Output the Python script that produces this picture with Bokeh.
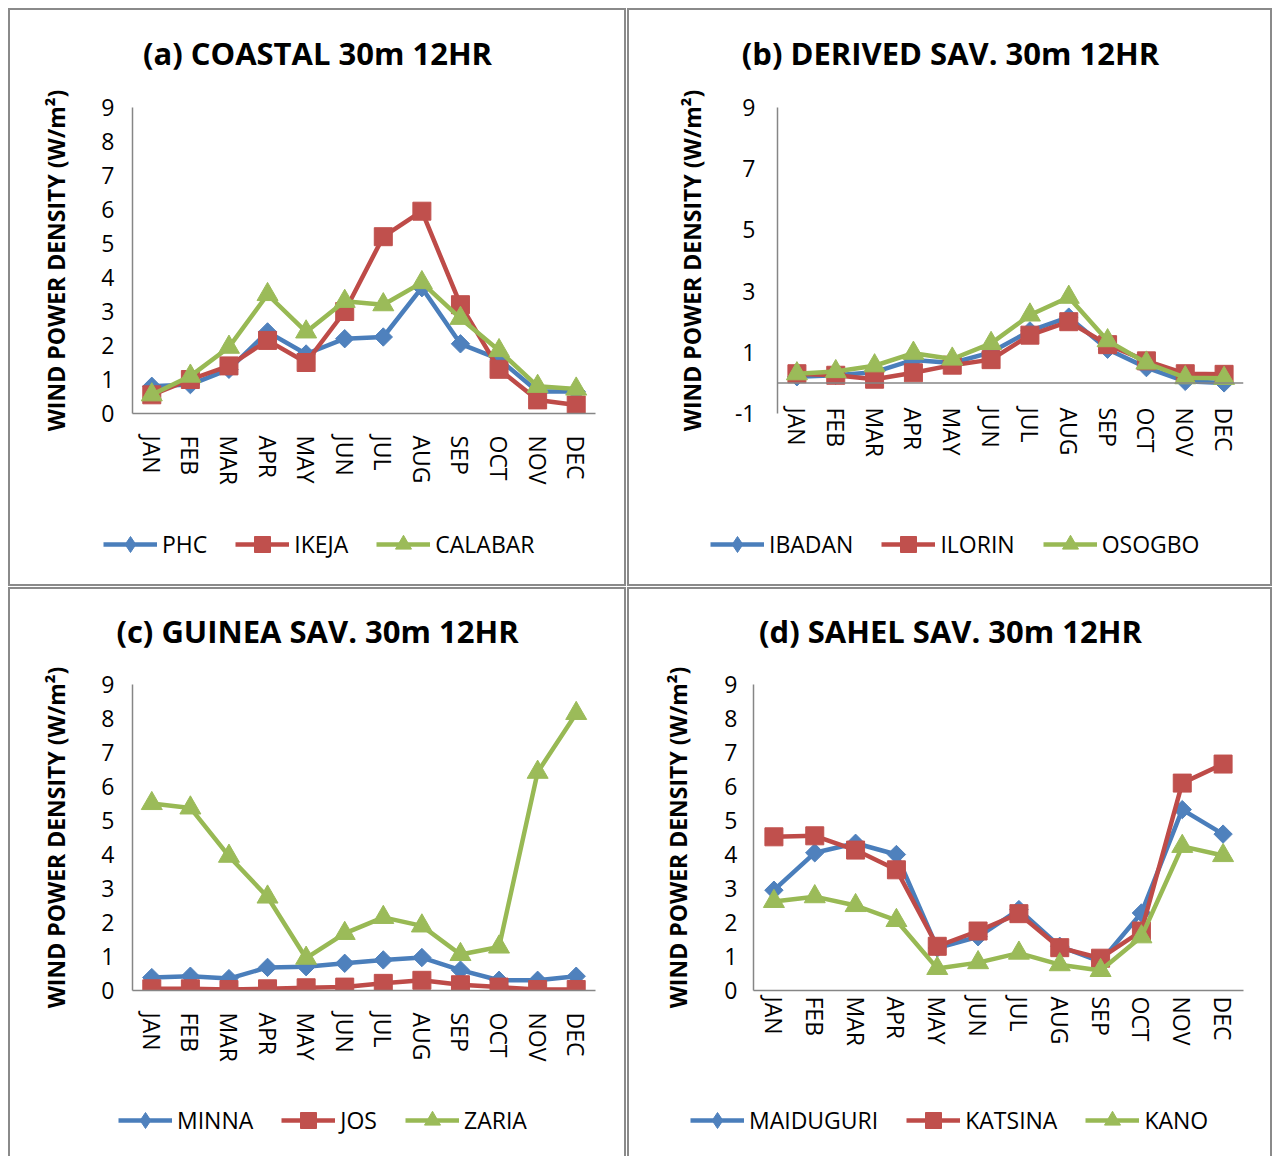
from math import pi

from bokeh.embed import file_html
from bokeh.layouts import column, row
from bokeh.models import (ColumnDataSource, FactorRange, FixedTicker, Label, Legend,
                          LegendItem, Range1d, Span)
from bokeh.plotting import figure
from bokeh.resources import INLINE

MONTHS = ["JAN", "FEB", "MAR", "APR", "MAY", "JUN",
          "JUL", "AUG", "SEP", "OCT", "NOV", "DEC"]

# (a) Coastal stations
phc = [0.80, 0.85, 1.30, 2.40, 1.75, 2.20, 2.25, 3.70, 2.05, 1.60, 0.65, 0.65]
ikeja = [0.55, 1.00, 1.40, 2.15, 1.50, 3.00, 5.20, 5.95, 3.20, 1.30, 0.40, 0.25]
calabar = [0.55, 1.10, 1.95, 3.50, 2.40, 3.30, 3.20, 3.85, 2.80, 1.85, 0.80, 0.72]

# (b) Derived savanna stations
ibadan = [0.20, 0.25, 0.35, 0.75, 0.65, 1.00, 1.70, 2.15, 1.10, 0.50, 0.05, 0.00]
ilorin = [0.30, 0.25, 0.12, 0.33, 0.58, 0.76, 1.56, 2.00, 1.25, 0.72, 0.30, 0.28]
osogbo = [0.30, 0.37, 0.56, 0.97, 0.78, 1.29, 2.22, 2.80, 1.38, 0.65, 0.17, 0.15]

# (c) Guinea savanna stations
minna = [0.38, 0.42, 0.35, 0.68, 0.70, 0.80, 0.90, 0.97, 0.60, 0.30, 0.30, 0.42]
jos = [0.05, 0.05, 0.03, 0.05, 0.08, 0.10, 0.21, 0.30, 0.17, 0.10, 0.03, 0.03]
zaria = [5.50, 5.37, 3.95, 2.75, 0.95, 1.68, 2.15, 1.90, 1.06, 1.28, 6.42, 8.15]

# (d) Sahel savanna stations
maiduguri = [2.95, 4.05, 4.33, 4.00, 1.25, 1.58, 2.38, 1.30, 0.85, 2.28, 5.32, 4.60]
katsina = [4.52, 4.55, 4.13, 3.55, 1.30, 1.75, 2.26, 1.26, 0.95, 1.75, 6.10, 6.66]
kano = [2.62, 2.76, 2.50, 2.06, 0.65, 0.82, 1.10, 0.76, 0.59, 1.58, 4.24, 3.97]

TICKS_9 = [0, 1, 2, 3, 4, 5, 6, 7, 8, 9]
TICKS_ODD = [-1, 1, 3, 5, 7, 9]

Y_LABEL = "WIND POWER DENSITY (W/m²)"

# line colour, marker fill, chart marker, size, angle, legend marker
STYLES = [
    ("#4A7EBB", "#4F81BD", "square", 13, pi / 4, "diamond"),
    ("#BE4B48", "#C0504D", "square", 18, 0.0, "square"),
    ("#98B954", "#9BBB59", "triangle", 21, 0.0, "triangle"),
]

FONT = "Open Sans"
AXIS_GRAY = "#868686"
BORDER = "2px solid #8a8a8a"


def no_frame_align(f):
    # keep each strip's frame independent of its neighbours in the column
    if "frame_align" in f.properties():
        f.frame_align = False


def bare_figure(width, height, x_range, y_range):
    f = figure(frame_width=width, frame_height=height, title=None,
               x_range=x_range, y_range=y_range,
               x_axis_type=None, y_axis_type=None,
               output_backend="svg", toolbar_location=None,
               min_border=0)
    f.outline_line_color = None
    f.xgrid.visible = False
    f.ygrid.visible = False
    no_frame_align(f)
    return f


def draw_series(p, names, series, for_legend=False):
    items = []
    for name, vals, (lc, fc, mk, sz, ang, lmk) in zip(names, series, STYLES):
        src = ColumnDataSource(dict(month=MONTHS, value=vals))
        lr = p.line("month", "value", source=src, line_color=lc, line_width=4.5)
        if for_legend:
            sr = p.scatter("month", "value", source=src, marker=lmk, size=sz,
                           fill_color=fc, line_color=fc)
            lr.visible = False
            sr.visible = False
        else:
            sr = p.scatter("month", "value", source=src, marker=mk, size=sz,
                           angle=ang, fill_color=fc, line_color=fc)
        items.append(LegendItem(label=name, renderers=[lr, sr]))
    return items


def make_panel(title, names, series, y_start, ticks, geo):
    w = geo["w"]

    # heading strip
    head = bare_figure(w, geo["h_title"], Range1d(0, 1), Range1d(0, 1))
    head.add_layout(Label(
        x=geo["title_x"], y=geo["title_y"], x_units="screen", y_units="screen",
        text=title, text_align="center", text_baseline="middle",
        text_font=FONT, text_font_style="bold", text_font_size="31px",
        text_color="black",
    ))

    # chart body
    p = figure(
        width=w, height=geo["h_main"], title=None,
        x_range=FactorRange(*MONTHS), y_range=Range1d(y_start, 9),
        output_backend="svg", toolbar_location=None,
        min_border_left=geo["bl"], min_border_right=geo["br"],
        min_border_top=geo["bt"], min_border_bottom=geo["bb"],
    )
    p.outline_line_color = None
    p.xgrid.visible = False
    p.ygrid.visible = False
    no_frame_align(p)

    ya = p.yaxis[0]
    ya.ticker = FixedTicker(ticks=ticks)
    ya.major_label_overrides = {v: str(v) for v in ticks}
    ya.axis_line_color = AXIS_GRAY
    ya.axis_line_width = 1.5
    ya.major_tick_line_color = None
    ya.minor_tick_line_color = None
    ya.major_tick_out = 0
    ya.major_label_text_font = FONT
    ya.major_label_text_font_size = "23px"
    ya.major_label_text_color = "black"
    ya.major_label_standoff = geo["ystand"]
    ya.axis_label = Y_LABEL
    ya.axis_label_text_font = FONT
    ya.axis_label_text_font_style = "bold"
    ya.axis_label_text_font_size = "23px"
    ya.axis_label_text_color = "black"
    ya.axis_label_standoff = geo["ylabstand"]

    xa = p.xaxis[0]
    xa.axis_line_color = AXIS_GRAY if y_start == 0 else None
    xa.axis_line_width = 1.5
    xa.major_tick_line_color = None
    xa.minor_tick_line_color = None
    xa.major_tick_out = 0
    xa.major_label_orientation = "vertical"
    xa.major_label_text_font = FONT
    xa.major_label_text_font_size = "23px"
    xa.major_label_text_color = "black"
    xa.major_label_standoff = geo["xstand"]

    if y_start < 0:
        p.add_layout(Span(location=0, dimension="width",
                          line_color=AXIS_GRAY, line_width=1.5))

    draw_series(p, names, series)

    # legend strip
    foot = bare_figure(w, geo["h_legend"], FactorRange(*MONTHS), Range1d(y_start, 9))
    items = draw_series(foot, names, series, for_legend=True)
    foot.add_layout(Legend(
        items=items, orientation="horizontal", location=geo["legend"],
        glyph_width=54, glyph_height=40, label_standoff=5, spacing=28,
        padding=0, margin=0, border_line_color=None, background_fill_alpha=0,
        label_text_font=FONT, label_text_font_size="23px",
        label_text_color="black", click_policy="none",
    ))

    box = column(head, p, foot)
    box.margin = geo["margin"]
    box.styles = {"outline": BORDER}
    return box


TOP = dict(h_title=75, h_main=415, h_legend=84, bt=22, bb=87, title_y=33)
BOTTOM = dict(h_title=75, h_main=413, h_legend=84, bt=20, bb=87, title_y=34)

pa = make_panel(
    "(a) COASTAL 30m 12HR", ["PHC", "IKEJA", "CALABAR"],
    [phc, ikeja, calabar], 0, TICKS_9,
    dict(TOP, w=614, bl=122, br=29, margin=(10, 0, 0, 10),
         ystand=18, ylabstand=26, xstand=22, legend=(93, 20), title_x=307),
)
pb = make_panel(
    "(b) DERIVED SAV. 30m 12HR", ["IBADAN", "ILORIN", "OSOGBO"],
    [ibadan, ilorin, osogbo], -1, TICKS_ODD,
    dict(TOP, w=641, bl=148, br=27, margin=(10, 0, 0, 5),
         ystand=22, ylabstand=24, xstand=-6, legend=(81, 20), title_x=321),
)
pc = make_panel(
    "(c) GUINEA SAV. 30m 12HR", ["MINNA", "JOS", "ZARIA"],
    [minna, jos, zaria], 0, TICKS_9,
    dict(BOTTOM, w=614, bl=122, br=29, margin=(5, 0, 0, 10),
         ystand=18, ylabstand=26, xstand=22, legend=(108, 21), title_x=307),
)
pd_ = make_panel(
    "(d) SAHEL SAV. 30m 12HR", ["MAIDUGURI", "KATSINA", "KANO"],
    [maiduguri, katsina, kano], 0, TICKS_9,
    dict(BOTTOM, w=641, bl=124, br=27, margin=(5, 0, 0, 5),
         ystand=16, ylabstand=27, xstand=6, legend=(61, 21), title_x=321),
)

layout = column(row(pa, pb), row(pc, pd_))

open("out.html", "w").write(file_html(layout, INLINE))
